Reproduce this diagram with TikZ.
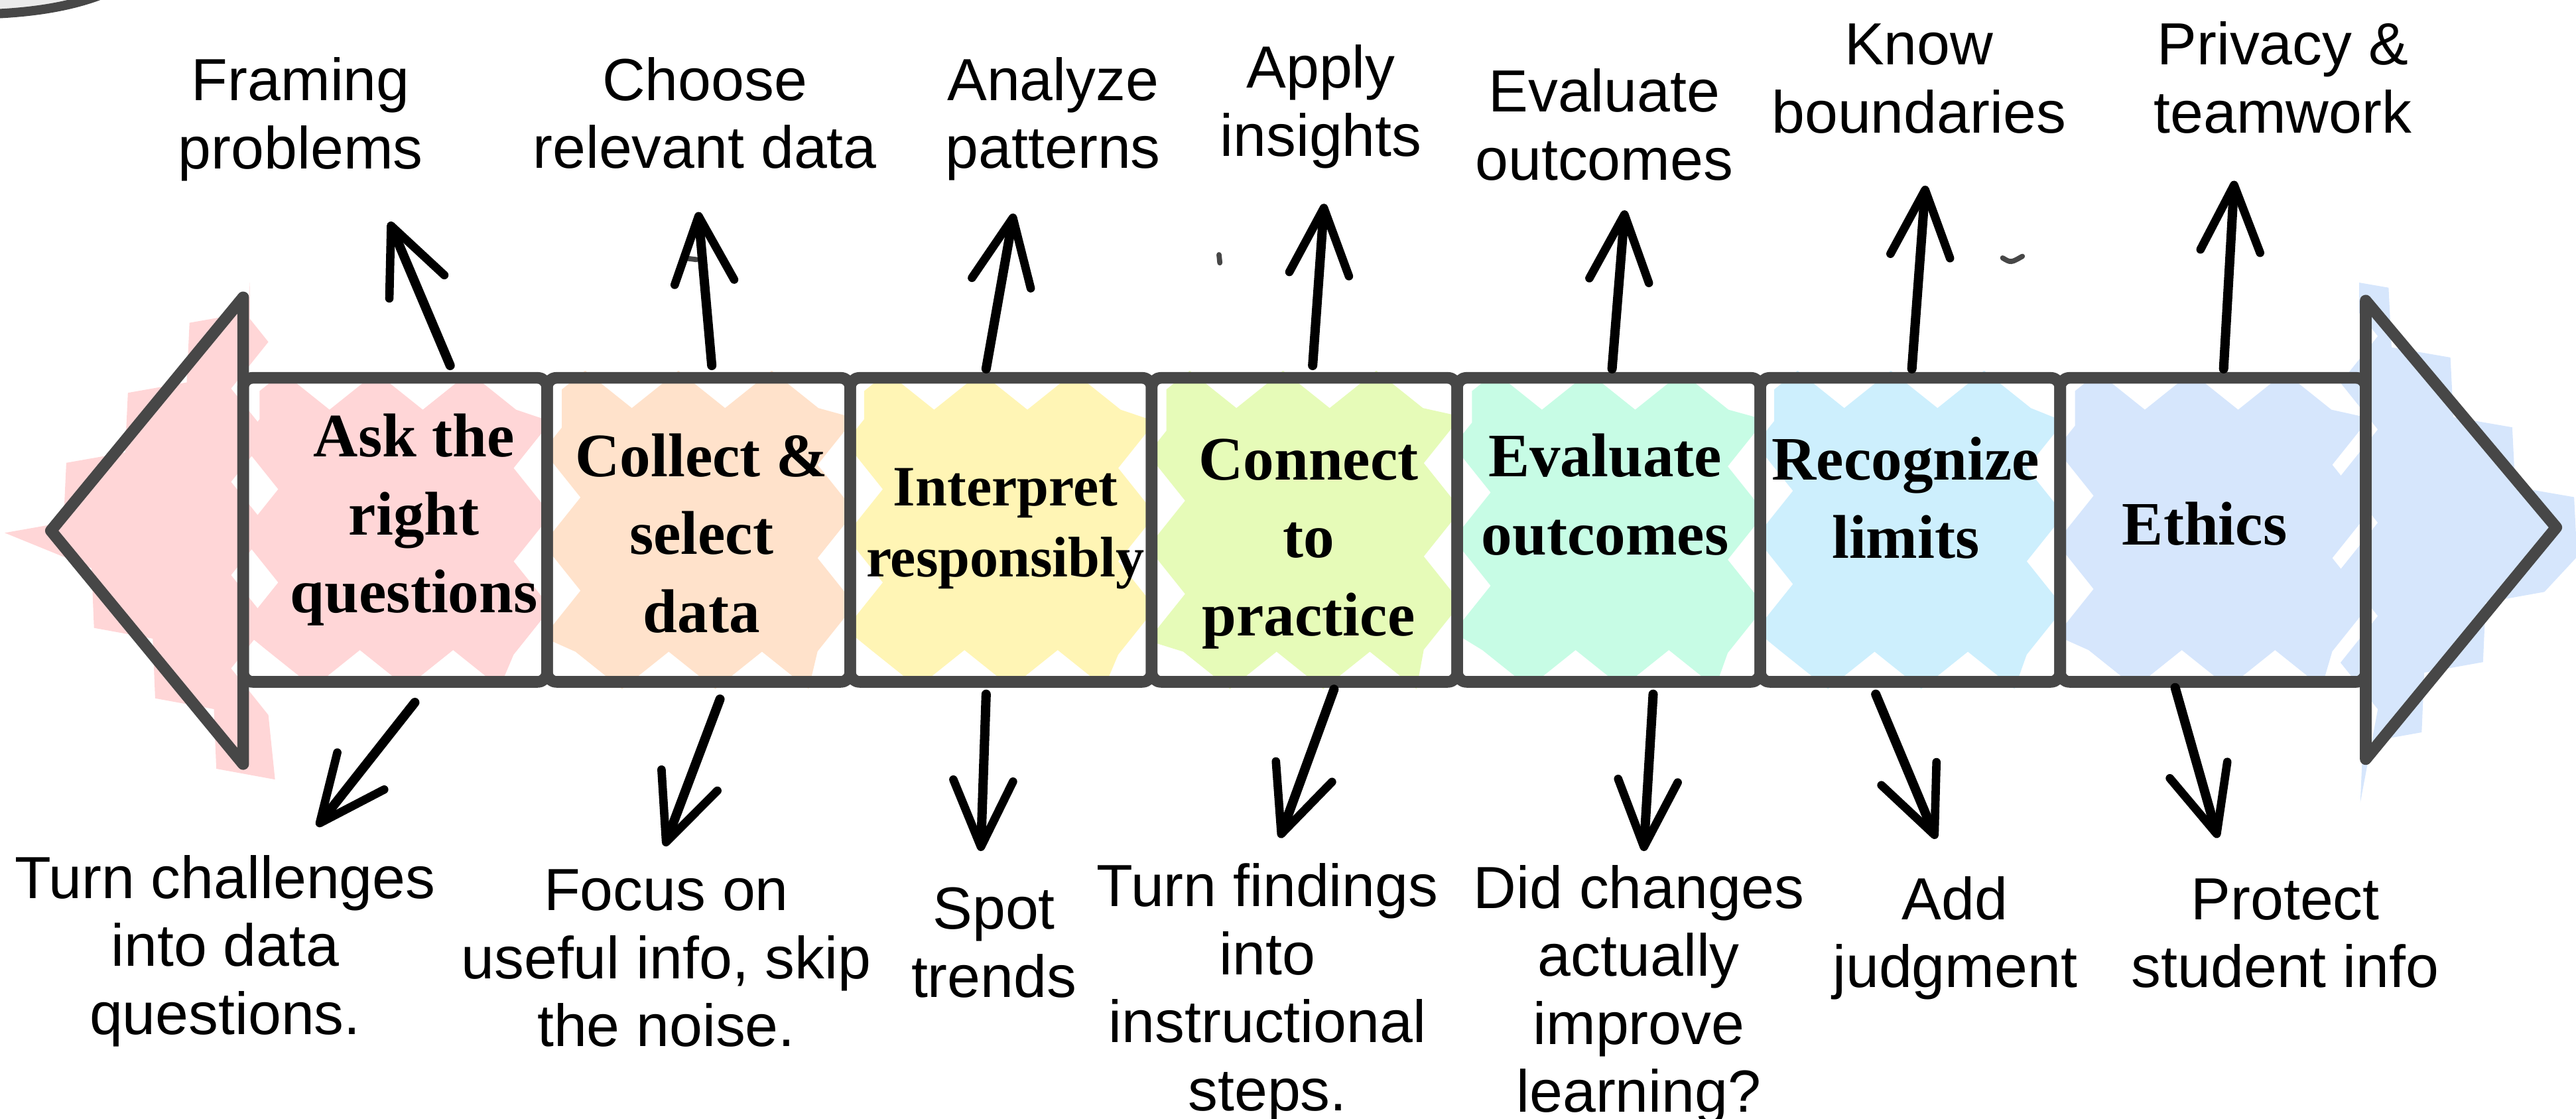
\documentclass[tikz,border=0pt]{standalone}
\usepackage{fontspec}
\setmainfont{Liberation Serif}
\newfontfamily\labsans{Liberation Sans}
\usetikzlibrary{arrows.meta,calc,fit,decorations.pathmorphing}
\definecolor{outl}{HTML}{474747}
\definecolor{pinkc}{HTML}{FFD6D7}
\definecolor{peachc}{HTML}{FFE2CB}
\definecolor{yellowc}{HTML}{FFF5B5}
\definecolor{limec}{HTML}{E6FBB8}
\definecolor{mintc}{HTML}{C7FCE5}
\definecolor{skyc}{HTML}{CDEFFD}
\definecolor{peric}{HTML}{D6E6FC}
\begin{document}
\begin{tikzpicture}[x=0.02477cm,y=-0.02477cm,
  outline/.style={draw=outl, line width=5pt, line join=round},
  boxnode/.style={outline, rounded corners=4pt, inner sep=0pt},
  scrib/.style={fill=#1, decorate, decoration={zigzag, segment length=40pt, amplitude=8pt}},
  steplab/.style={font=\fontsize{26.5}{33.5}\selectfont\bfseries, align=center, inner sep=0pt, anchor=base},
  steplabsm/.style={font=\fontsize{24.5}{30.5}\selectfont\bfseries, align=center, inner sep=0pt, anchor=base},
  smalllab/.style={font=\labsans\fontsize{25.5}{29.2}\selectfont, align=center, inner sep=0pt, anchor=base},
  arr/.style={line width=4pt, line cap=round, -{Straight Barb[length=1cm,width=0.9cm,line width=3.6pt,round]}},
  tinymark/.style={draw=outl, line width=2.2pt, line cap=round}
]
\useasboundingbox (0,0) rectangle (1568,681);

% top-left circle fragment
\fill[black!8] (-5,-5) -- (-5,8.5) .. controls (20,7.5) and (45,4) .. (66,-5) -- cycle;
\draw[outl, line width=4pt] (-5,8.5) .. controls (20,7.5) and (45,4) .. (66,-5);

% sketchy fills
\fill[scrib=pinkc] (152,172) -- (20,322) -- (152,474) -- cycle;
\fill[scrib=peric] (1436,172) -- (1568,321) -- (1436,472) -- cycle;
\fill[scrib=pinkc] (158,238) -- (324,238) -- (324,407) -- (158,407) -- cycle;
\fill[scrib=peachc] (342,237) -- (509,237) -- (509,408) -- (342,408) -- cycle;
\fill[scrib=yellowc] (526,238) -- (692,238) -- (692,407) -- (526,407) -- cycle;
\fill[scrib=limec] (710,237) -- (878,237) -- (878,408) -- (710,408) -- cycle;
\fill[scrib=mintc] (896,238) -- (1063,238) -- (1063,407) -- (896,407) -- cycle;
\fill[scrib=skyc] (1080,237) -- (1245,237) -- (1245,408) -- (1080,408) -- cycle;
\fill[scrib=peric] (1263,238) -- (1431,238) -- (1431,407) -- (1263,407) -- cycle;

% boxes
\node[boxnode, fit={(148,230) (333,415)}] (b1) {};
\node[boxnode, fit={(333,230) (517.5,415)}] (b2) {};
\node[boxnode, fit={(517.5,230) (701,415)}] (b3) {};
\node[boxnode, fit={(701,230) (887,415)}] (b4) {};
\node[boxnode, fit={(887,230) (1071.5,415)}] (b5) {};
\node[boxnode, fit={(1071.5,230) (1254,415)}] (b6) {};
\node[boxnode, fit={(1254,230) (1440,415)}] (b7) {};

% arrow heads of the band
\draw[outline] (148,181) -- (31,323) -- (148,465) -- cycle;
\draw[outline] (1440,183) -- (1556,321) -- (1440,462) -- cycle;

% small marks
\draw[tinymark] (416,157) -- (424,158);
\draw[tinymark] (742,155) -- (742.5,160);
\draw[tinymark] (1219,157) .. controls (1224,160) .. (1231,156);

% step labels (anchor = baseline of last line)
\node[steplab] (s1) at (252,373) {Ask the\\right\\questions};
\node[steplab] (s2) at (427,385) {Collect \&\\select\\data};
\node[steplabsm] (s3) at (612,351) {Interpret\\responsibly};
\node[steplab] (s4) at (796.5,387) {Connect\\to\\practice};
\node[steplab] (s5) at (977,337.6) {Evaluate\\outcomes};
\node[steplab] (s6) at (1160,339.6) {Recognize\\limits};
\node[steplab] (s7) at (1342,331.5) {Ethics};

% top labels
\node[smalllab] (u1) at (183,102.7) {Framing\\problems};
\node[smalllab] (u2) at (429,102.5) {Choose\\relevant data};
\node[smalllab] (u3) at (641,102.5) {Analyze\\patterns};
\node[smalllab] (u4) at (804,95) {Apply\\insights};
\node[smalllab] (u5) at (976.5,109.5) {Evaluate\\outcomes};
\node[smalllab] (u6) at (1168,81) {Know\\boundaries};
\node[smalllab] (u7) at (1389.5,81) {Privacy \&\\teamwork};

% bottom labels
\node[smalllab] (d1) at (137,629.6) {Turn challenges\\into data\\questions.};
\node[smalllab] (d2) at (405.5,637) {Focus on\\useful info, skip\\the noise.};
\node[smalllab] (d3) at (605,607) {Spot\\trends};
\node[smalllab] (d4) at (771.5,676) {Turn findings\\into\\instructional\\steps.};
\node[smalllab] (d5) at (997.5,677) {Did changes\\actually\\improve\\learning?};
\node[smalllab] (d6) at (1190,601) {Add\\judgment};
\node[smalllab] (d7) at (1391,601) {Protect\\student info};

% arrow tips
\coordinate (tu1) at (237,135);
\coordinate (tu2) at (425,129);
\coordinate (tu3) at (617,130);
\coordinate (tu4) at (806,124);
\coordinate (tu5) at (989,128);
\coordinate (tu6) at (1172,113);
\coordinate (tu7) at (1360,110);
\coordinate (td1) at (193,503);
\coordinate (td2) at (404.5,515);
\coordinate (td3) at (597,518);
\coordinate (td4) at (779,510);
\coordinate (td5) at (1000.5,518);
\coordinate (td6) at (1178.5,510.5);
\coordinate (td7) at (1350,510);

% arrows
\draw[arr] ($(b1.north)+(33.5,-4)$) -- (tu1);
\draw[arr] ($(b2.north)+(8,-4)$) -- (tu2);
\draw[arr] ($(b3.north)+(-9,-2)$) -- (tu3);
\draw[arr] ($(b4.north)+(5,-4)$) -- (tu4);
\draw[arr] ($(b5.north)+(2,-2)$) -- (tu5);
\draw[arr] ($(b6.north)+(1,-2)$) -- (tu6);
\draw[arr] ($(b7.north)+(6.5,-2)$) -- (tu7);
\draw[arr] ($(b1.south)+(12,9)$) -- (td1);
\draw[arr] ($(b2.south)+(13,7)$) -- (td2);
\draw[arr] ($(b3.south)+(-9,4)$) -- (td3);
\draw[arr] ($(b4.south)+(18,1)$) -- (td4);
\draw[arr] ($(b5.south)+(27,4)$) -- (td5);
\draw[arr] ($(b6.south)+(-21,4)$) -- (td6);
\draw[arr] ($(b7.south)+(-23,0)$) -- (td7);
\end{tikzpicture}
\end{document}
